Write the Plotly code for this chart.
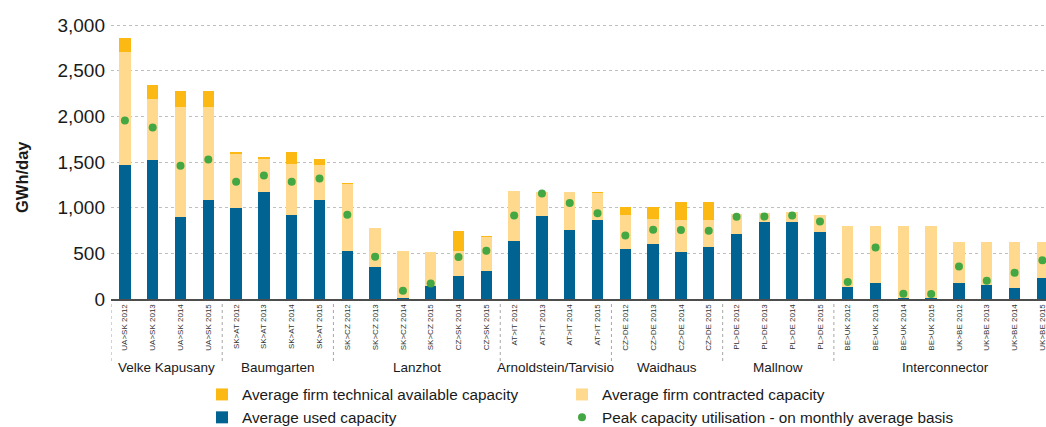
import plotly.graph_objects as go

# Cross-border points and directions, 2012-2015
categories = [
    "UA>SK 2012", "UA>SK 2013", "UA>SK 2014", "UA>SK 2015",
    "SK>AT 2012", "SK>AT 2013", "SK>AT 2014", "SK>AT 2015",
    "SK>CZ 2012", "SK>CZ 2013", "SK>CZ 2014", "SK>CZ 2015",
    "CZ>SK 2014", "CZ>SK 2015",
    "AT>IT 2012", "AT>IT 2013", "AT>IT 2014", "AT>IT 2015",
    "CZ>DE 2012", "CZ>DE 2013", "CZ>DE 2014", "CZ>DE 2015",
    "PL>DE 2012", "PL>DE 2013", "PL>DE 2014", "PL>DE 2015",
    "BE>UK 2012", "BE>UK 2013", "BE>UK 2014", "BE>UK 2015",
    "UK>BE 2012", "UK>BE 2013", "UK>BE 2014", "UK>BE 2015",
]

# GWh/day
technical = [2855, 2340, 2282, 2282,
             1607, 1556, 1607, 1535,
             1265, 773, 525, 514,
             744, 693,
             1181, 1170, 1177, 1174,
             1010, 1010, 1064, 1064,
             929, 937, 951, 922,
             798, 798, 798, 798,
             623, 623, 623, 623]
contracted = [2705, 2191, 2103, 2103,
              1593, 1538, 1480, 1465,
              1254, 773, 525, 514,
              529, 678,
              1181, 1170, 1177, 1163,
              922, 878, 868, 868,
              929, 937, 951, 922,
              798, 798, 798, 798,
              623, 623, 623, 623]
used = [1462, 1520, 897, 1086,
        991, 1177, 922, 1086,
        525, 346, 11, 146,
        248, 303,
        634, 904, 751, 860,
        543, 601, 510, 572,
        711, 838, 838, 733,
        128, 175, 5, 5,
        179, 149, 124, 226]
peak = [1954, 1877, 1458, 1527,
        1283, 1352, 1283, 1319,
        922, 463, 91, 171,
        459, 529,
        915, 1155, 1050, 940,
        696, 758, 755, 747,
        900, 904, 915, 849,
        186, 565, 58, 55,
        357, 200, 288, 423]

# Interconnection points: (name, first category index, last category index)
groups = [
    ("Velke Kapusany", 0, 3),
    ("Baumgarten", 4, 7),
    ("Lanzhot", 8, 13),
    ("Arnoldstein/Tarvisio", 14, 17),
    ("Waidhaus", 18, 21),
    ("Mallnow", 22, 25),
    ("Interconnector", 26, 33),
]

ORANGE = "#FDB913"
LIGHT = "#FED98E"
BLUE = "#006391"
GREEN = "#43A843"

W, H = 1046, 427
M_L, M_R, M_T, M_B = 111, 0, 20, 128
plot_h = H - M_T - M_B
Y_TOP_PX = 25      # row of the 3,000 gridline
Y_ZERO_PX = H - M_B

def py(pixel_y):
    """Convert a page pixel row to paper y."""
    return (Y_ZERO_PX - pixel_y) / plot_h

x = list(range(len(categories)))
bar_w = 0.41

fig = go.Figure()
fig.add_trace(go.Bar(x=x, y=technical, name="Average firm technical available capacity",
                     marker=dict(color=ORANGE, line=dict(width=0)), width=bar_w,
                     legend="legend", legendrank=1))
fig.add_trace(go.Bar(x=x, y=contracted, name="Average firm contracted capacity",
                     marker=dict(color=LIGHT, line=dict(width=0)), width=bar_w,
                     legend="legend2", legendrank=1))
fig.add_trace(go.Bar(x=x, y=used, name="Average used capacity",
                     marker=dict(color=BLUE, line=dict(width=0)), width=bar_w,
                     legend="legend", legendrank=2))
fig.add_trace(go.Scatter(x=x, y=peak, mode="markers",
                         name="Peak capacity utilisation - on monthly average basis",
                         marker=dict(color=GREEN, size=8, line=dict(width=0)),
                         legend="legend2", legendrank=2))

# group separators and names under the category labels
shapes = []
annotations = []
for name, a, b in groups:
    shapes.append(dict(type="line", xref="x", yref="paper", x0=a - 0.5, x1=a - 0.5,
                       y0=py(304), y1=py(362),
                       line=dict(color="#A6A6A6", width=1, dash="dot")))
    annotations.append(dict(text=name, x=(a + b) / 2, y=py(367), xref="x", yref="paper",
                            showarrow=False, yanchor="middle",
                            font=dict(family="Liberation Sans, Arial", size=13.5, color="#1a1a1a")))

annotations.append(dict(text="<b>GWh/day</b>", textangle=-90,
                        x=(22 - M_L) / (W - M_L - M_R), y=py(177),
                        xref="paper", yref="paper", showarrow=False,
                        xanchor="center", yanchor="middle",
                        font=dict(family="Liberation Sans, Arial", size=16.5, color="#1a1a1a")))

legend_common = dict(
    orientation="v", xref="container", yref="container",
    xanchor="left", yanchor="top",
    font=dict(size=15.3, color="#1a1a1a"),
    itemclick=False, bgcolor="rgba(0,0,0,0)",
    traceorder="normal", tracegroupgap=0,
)

fig.update_layout(
    width=W, height=H,
    margin=dict(l=M_L, r=M_R, t=M_T, b=M_B, autoexpand=False),
    barmode="overlay",
    bargap=0,
    plot_bgcolor="white", paper_bgcolor="white",
    font=dict(family="Liberation Sans, Arial", color="#1a1a1a"),
    xaxis=dict(
        tickmode="array", tickvals=x, ticktext=categories,
        tickangle=-90, tickfont=dict(size=8, color="#333333"),
        ticklabeloverflow="allow",
        range=[-0.5, 33.13], showgrid=False, ticks="",
        showline=True, linecolor="#4d4d4d", linewidth=2,
        zeroline=False, fixedrange=True,
    ),
    yaxis=dict(
        range=[0, 3000 * plot_h / (Y_ZERO_PX - Y_TOP_PX)],
        tickvals=[0, 500, 1000, 1500, 2000, 2500, 3000],
        tickformat=",d",
        tickfont=dict(size=19, color="#1a1a1a"),
        showgrid=True, gridcolor="#BFBFBF", griddash="dot", gridwidth=1,
        zeroline=False, showline=False, ticks="", ticklabelstandoff=5,
    ),
    legend=dict(legend_common, x=202 / W, y=1 - 378 / H),
    legend2=dict(legend_common, x=562 / W, y=1 - 378 / H),
    shapes=shapes,
    annotations=annotations,
    showlegend=True,
)

fig.write_html("out.html")
